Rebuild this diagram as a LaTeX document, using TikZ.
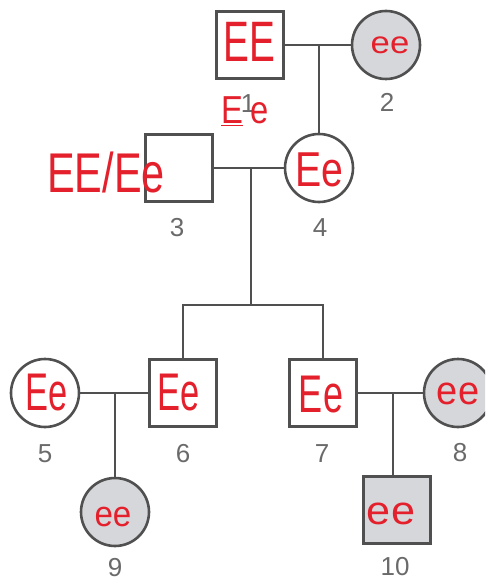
\documentclass[tikz,border=0pt]{standalone}
\usepackage{fontspec}
\setmainfont{Liberation Sans}
\usepackage{graphicx}
\definecolor{pedline}{HTML}{505050}
\definecolor{affill}{HTML}{D6D7DB}
\definecolor{numgray}{HTML}{6A6A6A}
\definecolor{inkred}{HTML}{E3202B}
% horizontally squeezed handwritten-style genotype
\newcommand{\geno}[3]{{\fontsize{#1}{#1}\selectfont\scalebox{#2}[1]{#3}}}
\begin{document}
\begin{tikzpicture}[x=1pt,y=-1pt,
  male/.style={rectangle, draw=pedline, line width=2.6pt, minimum size=67pt, inner sep=0pt},
  female/.style={circle, draw=pedline, line width=2.6pt, minimum size=68pt, inner sep=0pt},
  affected/.style={fill=affill},
  link/.style={draw=pedline, line width=2.3pt},
  num/.style={text=numgray, inner sep=0pt, font=\fontsize{26}{26}\selectfont},
  ink/.style={text=inkred, inner sep=0pt}]
\useasboundingbox (0,0) rectangle (485,585);
\clip (0,0) rectangle (485,585);

% generation I
\node[male] (p1) at (250,45) {};
\node[female,affected] (p2) at (386,45) {};
% generation II
\node[male] (p3) at (179,168) {};
\node[female] (p4) at (319,168) {};
% generation III
\node[female] (p5) at (45,393) {};
\node[male] (p6) at (183,393) {};
\node[male] (p7) at (323,393) {};
\node[female,affected] (p8) at (458,393) {};
% generation IV
\node[female,affected] (p9) at (115,512) {};
\node[male,affected] (p10) at (397,510) {};

% junction points
\coordinate (m12) at (319,45);
\coordinate (m34) at (251,168);
\coordinate (sib) at (251,305);
\coordinate (sL) at (183,305);
\coordinate (sR) at (323,305);
\coordinate (m56) at (115,393);
\coordinate (m78) at (393,393);

% matings and descent lines
\draw[link] (p1) -- (p2);
\draw[link] (m12) -- (p4.north);
\draw[link] (p3) -- (p4);
\draw[link] (m34) -- (sib);
\draw[link] (p6.north) -- (sL) -- (sR) -- (p7.north);
\draw[link] (p5) -- (p6);
\draw[link] (m56) -- (p9.north);
\draw[link] (p7) -- (p8);
\draw[link] (m78) -- (m78 |- p10.north);

% individual numbers
\node[num] (n1) at (248,104) {1};
\node[num] (n2) at (387,102) {2};
\node[num] (n3) at (177,228) {3};
\node[num] (n4) at (320,228) {4};
\node[num] (n5) at (45,454) {5};
\node[num] (n6) at (183,454) {6};
\node[num] (n7) at (322,454) {7};
\node[num] (n8) at (460,453) {8};
\node[num] (n9) at (115,568) {9};
\node[num] (n10) at (395,567) {10};

% genotypes
\node[ink] (g1) at (249,42) {\geno{57}{0.68}{EE}};
\node[ink] (g1b) at (245,111) {\geno{39}{0.84}{\underline{E}\hspace{9pt}e}};
\node[ink] (g2) at (390,45) {\geno{31}{1.12}{ee}};
\node[ink] (g3) at (106,172) {\geno{56}{0.74}{EE/Ee}};
\node[ink] (g4) at (319,170) {\geno{49}{0.8}{Ee}};
\node[ink] (g5) at (47,393) {\geno{53}{0.65}{Ee}};
\node[ink] (g6) at (179,393) {\geno{53}{0.65}{Ee}};
\node[ink] (g7) at (321,395) {\geno{53}{0.68}{Ee}};
\node[ink] (g8) at (458,394) {\geno{40}{0.95}{ee}};
\node[ink] (g9) at (113,517) {\geno{36}{0.92}{ee}};
\node[ink] (g10) at (391,514) {\geno{40}{1.08}{ee}};
\end{tikzpicture}
\end{document}
